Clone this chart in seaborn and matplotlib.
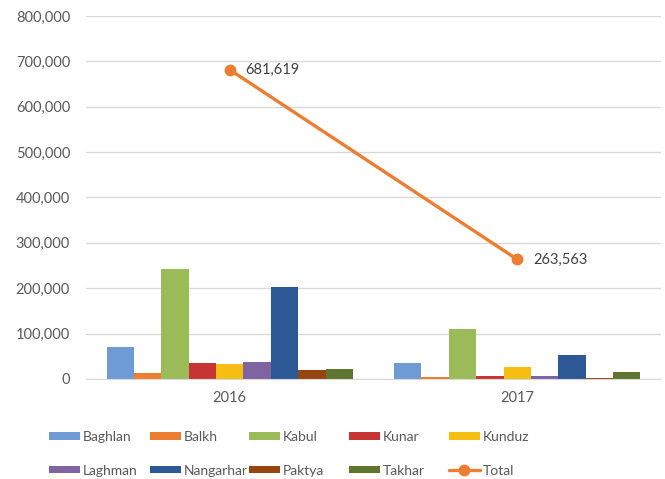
import pandas as pd
import matplotlib.pyplot as plt
import matplotlib.ticker as mticker
import seaborn as sns

# datos
anios = ['2016', '2017']
provincias = ['Baghlan', 'Balkh', 'Kabul', 'Kunar', 'Kunduz',
              'Laghman', 'Nangarhar', 'Paktya', 'Takhar']
valores_2016 = [70000, 12500, 243000, 34500, 32500, 37000, 202000, 20000, 22000]
valores_2017 = [36000, 4500, 109500, 6500, 26500, 6500, 52000, 1500, 15500]
totales = [681619, 263563]

colores = ['#6e9ad6', '#ed7d31', '#9bbb59', '#c83434', '#f5be10',
           '#8064a2', '#2c5895', '#974510', '#5f7530']
gris = '#595959'

sns.set_style('white')
plt.rcParams['font.family'] = ['Lato', 'DejaVu Sans']

data = pd.DataFrame({
    'anio': [a for a in anios for _ in provincias],
    'provincia': provincias * len(anios),
    'valor': valores_2016 + valores_2017,
})

fig = plt.figure(figsize=(6.65, 4.79), dpi=100)
ax = fig.add_axes([86 / 665, 1 - 379 / 479, (661 - 86) / 665, (379 - 16) / 479])

sns.barplot(data=data, x='anio', y='valor', hue='provincia', hue_order=provincias,
            palette=colores, saturation=1, width=0.857, linewidth=0, ax=ax)

# linea del total
ax.plot([0, 1], totales, color='#ed7d31', lw=2.4, marker='o', ms=7.5, label='Total', zorder=5)
for i, t in enumerate(totales):
    ax.annotate(f'{t:,}', (i, t), xytext=(11.5, 0), textcoords='offset points',
                va='center', ha='left', fontsize=10.5, color='#404040')

ax.set_ylim(0, 800000)
ax.set_xlim(-0.5, 1.5)
ax.yaxis.set_major_locator(mticker.MultipleLocator(100000))
ax.yaxis.set_major_formatter(mticker.FuncFormatter(lambda v, p: f'{int(v):,}'))
ax.grid(axis='y', color='#d9d9d9', lw=1)
ax.set_axisbelow(True)
for s in ['top', 'right', 'left']:
    ax.spines[s].set_visible(False)
ax.spines['bottom'].set_color('#d9d9d9')
ax.tick_params(axis='y', length=0, labelsize=10.5, labelcolor=gris, pad=11.5)
ax.tick_params(axis='x', length=0, labelsize=10.5, labelcolor=gris, pad=9)
ax.set_xlabel('')
ax.set_ylabel('')

# leyenda: una columna por cada posicion, como en el original
handles, labels = ax.get_legend_handles_labels()
ax.get_legend().remove()
columnas_x = [49, 150, 249, 349, 449]
for c, xpix in enumerate(columnas_x):
    idx = [c, c + 5]
    fig.legend([handles[i] for i in idx], [labels[i] for i in idx],
               loc='upper left', bbox_to_anchor=(xpix / 665, 1 - 431 / 479),
               frameon=False, fontsize=10, labelcolor=gris,
               handlelength=2.2, handleheight=0.45, handletextpad=0.2,
               labelspacing=1.55, borderpad=0, borderaxespad=0)

fig.savefig('out.png', dpi=100)
